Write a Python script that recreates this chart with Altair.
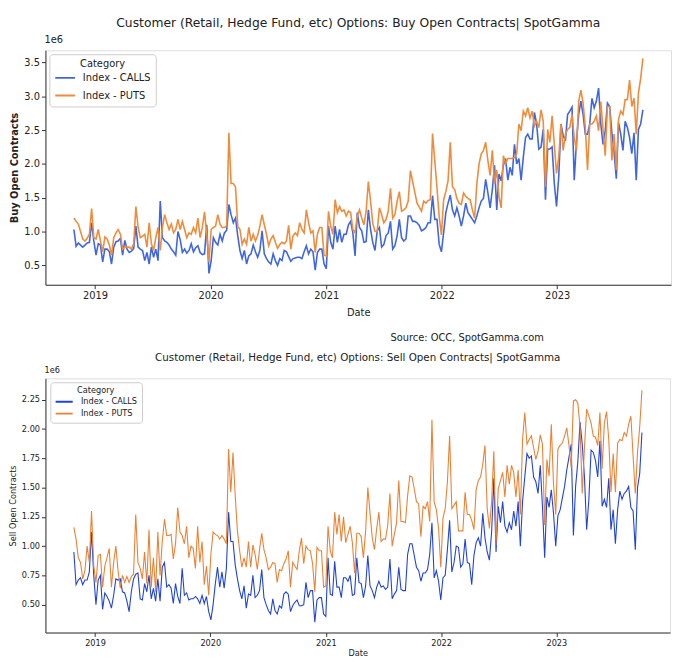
import altair as alt
import pandas as pd

FONT = "DejaVu Sans"
START = "2018-10-26"
CATS = ["Index - CALLS", "Index - PUTS"]
YEARS = [2019, 2020, 2021, 2022, 2023]

TOP_TITLE = "Customer (Retail, Hedge Fund, etc) Options: Buy Open Contracts| SpotGamma"
BOTTOM_TITLE = "Customer (Retail, Hedge Fund, etc) Options: Sell Open Contracts| SpotGamma"
SOURCE = "Source: OCC, SpotGamma.com"

TOP_Y_TICKS = [0.5, 1.0, 1.5, 2.0, 2.5, 3.0, 3.5]
BOTTOM_Y_TICKS = [0.5, 0.75, 1.0, 1.25, 1.5, 1.75, 2.0, 2.25]

# ---- Buy open contracts (millions), weekly ----
buy_calls_a = [1.03, 0.78, 0.83, 0.80, 0.77, 0.80, 0.83, 0.84, 1.13, 0.86, 0.65]
buy_calls_b = [0.82, 0.80, 0.55, 0.74, 0.74, 0.70, 0.52, 0.77, 0.85, 0.86, 0.90, 0.65, 0.87,
               0.74, 0.69, 0.71, 0.75, 1.08, 0.77, 0.74, 0.72, 0.57, 0.69, 0.52, 0.77, 0.62,
               0.74, 0.57, 1.45, 0.91, 0.86, 0.84, 0.80, 0.74, 0.70, 0.65, 1.00, 0.88, 0.69,
               0.74, 0.68, 0.72, 0.82, 0.70, 0.76, 0.79, 0.69, 0.66, 0.67, 1.10, 0.38, 0.57]
buy_calls_c = [0.91, 0.84, 0.80, 0.96, 0.86, 0.98, 1.02, 1.40, 1.25, 1.13, 1.20, 0.94, 0.72,
               0.60, 0.72, 0.52, 0.64, 0.67, 0.80, 0.70, 0.62, 0.72, 1.01, 0.67, 0.60, 0.55,
               0.52, 0.67, 0.57, 0.50, 0.60, 0.57, 0.72, 0.70, 0.63, 0.56, 0.60, 0.61, 0.62,
               0.62, 0.60, 0.70, 0.79, 0.67, 0.74, 0.70, 0.43, 0.69, 0.74, 0.74, 0.52, 0.45]
buy_calls_d = [1.08, 0.84, 0.74, 1.08, 0.84, 1.03, 0.84, 0.96, 0.96, 1.10, 1.15, 0.98, 0.64,
               1.28, 1.06, 1.01, 0.84, 0.85, 1.32, 1.03, 0.84, 0.72, 1.01, 1.06, 0.77, 0.81,
               0.94, 0.98, 1.15, 0.74, 0.79, 0.94, 1.18, 0.91, 0.86, 0.89, 1.23, 1.23, 1.15,
               1.15, 1.13, 1.09, 1.01, 1.03, 1.06, 1.13, 1.13, 1.53, 1.18, 1.18, 0.81, 0.70, 0.98]
buy_calls_e = [1.28, 1.42, 1.54, 1.32, 1.23, 1.35, 1.23, 1.08, 1.23, 1.42, 1.28, 1.23, 1.18,
               1.13, 1.23, 1.35, 1.45, 1.49, 1.77, 1.57, 1.35, 1.62, 1.98, 1.32, 1.85, 1.75,
               1.98, 2.08, 1.76, 1.95, 1.83, 2.29, 2.00, 2.08, 1.76, 2.10, 2.39, 2.44, 2.37,
               2.37, 2.76, 2.60, 2.22, 2.25, 2.51, 1.47, 2.22, 2.22, 2.25, 1.71, 1.37, 1.81]
buy_calls_f = [2.59, 2.42, 2.34, 2.73, 2.78, 2.84, 1.76, 2.32, 2.73, 2.93, 2.73, 2.44, 2.44,
               2.59, 2.97, 2.83, 2.93, 3.12, 2.59, 2.29, 2.49, 2.90, 2.85, 2.46, 2.17, 1.78,
               2.61, 2.44, 2.20, 2.63, 2.54, 2.39, 2.15, 2.46, 1.76, 2.51, 2.59, 2.80]

buy_puts_a = [1.20, 1.15, 1.11, 1.00, 0.89, 0.86, 0.90, 0.96, 1.34, 0.91, 0.89]
buy_puts_b = [1.03, 0.86, 0.70, 0.92, 0.89, 0.80, 0.65, 0.91, 0.98, 1.03, 0.96, 0.74, 0.77,
              0.77, 0.77, 0.74, 0.82, 1.37, 1.06, 0.91, 0.93, 0.96, 0.77, 1.13, 0.82, 0.72,
              0.91, 1.06, 0.72, 1.06, 1.25, 1.13, 1.03, 1.11, 0.98, 1.03, 1.18, 1.03, 1.15,
              1.03, 0.91, 0.98, 0.96, 1.06, 0.98, 1.20, 0.91, 1.06, 1.29, 0.96, 0.55, 1.03]
buy_puts_c = [1.06, 1.08, 1.25, 1.11, 1.06, 1.06, 1.08, 2.46, 1.71, 1.71, 1.66, 1.08, 1.03,
              0.81, 0.89, 0.81, 1.06, 0.86, 0.96, 0.86, 0.94, 1.08, 1.25, 1.10, 0.96, 0.79,
              0.89, 0.94, 0.84, 0.75, 0.81, 0.84, 0.82, 0.86, 1.09, 0.74, 0.94, 0.98, 0.94,
              1.13, 1.03, 0.98, 1.32, 1.13, 0.98, 1.01, 0.69, 0.96, 1.06, 1.06, 0.65, 0.64]
buy_puts_d = [1.30, 1.08, 0.96, 1.47, 1.28, 1.37, 1.30, 1.32, 1.23, 1.30, 1.28, 1.03, 0.98,
              1.23, 1.32, 1.20, 1.10, 1.30, 1.74, 1.45, 1.12, 1.00, 1.00, 1.35, 1.25, 1.13,
              1.18, 1.30, 1.64, 1.20, 1.25, 1.45, 1.59, 1.30, 1.32, 1.35, 1.45, 1.90, 1.74,
              1.58, 1.42, 1.36, 1.30, 1.45, 1.42, 1.46, 1.47, 2.45, 2.05, 1.65, 1.22, 0.95, 1.47]
buy_puts_e = [1.59, 1.75, 2.32, 1.66, 1.62, 1.49, 1.42, 1.40, 1.57, 1.52, 1.49, 1.47, 1.32,
              1.20, 1.70, 2.00, 2.15, 2.20, 2.32, 2.05, 1.83, 2.20, 1.71, 1.91, 1.52, 1.35,
              2.12, 2.00, 2.08, 2.08, 2.08, 2.10, 2.15, 2.59, 2.49, 2.78, 2.71, 2.83, 2.68,
              2.78, 2.56, 2.63, 2.54, 2.80, 2.63, 1.66, 2.51, 2.32, 2.71, 2.29, 1.86, 2.10]
buy_puts_f = [2.59, 2.20, 2.44, 2.51, 2.54, 2.73, 2.39, 2.20, 2.92, 3.09, 2.90, 2.54, 1.91,
              2.59, 2.59, 2.63, 2.71, 2.49, 2.92, 2.51, 2.12, 2.85, 2.85, 2.05, 2.44, 1.91,
              2.66, 2.78, 2.73, 2.95, 2.95, 3.24, 2.85, 2.97, 2.44, 3.05, 3.26, 3.56]

# ---- Sell open contracts (millions), weekly ----
sell_calls_a = [0.95, 0.67, 0.71, 0.73, 0.67, 0.71, 0.71, 0.78, 1.12, 0.75, 0.50]
sell_calls_b = [0.71, 0.75, 0.46, 0.60, 0.57, 0.53, 0.47, 0.58, 0.72, 0.71, 0.72, 0.61, 0.60,
                0.53, 0.44, 0.61, 0.72, 0.76, 0.77, 0.55, 0.54, 0.68, 0.61, 0.75, 0.55, 0.64,
                0.53, 0.72, 0.53, 0.82, 0.86, 0.65, 0.67, 0.64, 0.51, 0.68, 0.57, 0.51, 0.81,
                0.58, 0.60, 0.54, 0.55, 0.55, 0.57, 0.55, 0.51, 0.58, 0.51, 0.57, 0.44, 0.37]
sell_calls_c = [0.50, 0.68, 0.82, 0.65, 0.78, 0.64, 0.81, 1.29, 1.04, 1.04, 0.84, 0.72, 0.62,
                0.55, 0.66, 0.47, 0.59, 0.58, 0.75, 0.56, 0.58, 0.62, 0.80, 0.56, 0.50, 0.45,
                0.42, 0.55, 0.45, 0.42, 0.49, 0.47, 0.59, 0.61, 0.59, 0.44, 0.49, 0.52, 0.54,
                0.49, 0.49, 0.50, 0.69, 0.56, 0.62, 0.62, 0.35, 0.54, 0.56, 0.56, 0.42, 0.40]
sell_calls_d = [0.90, 0.59, 0.58, 0.87, 0.65, 0.65, 0.56, 0.73, 0.73, 0.70, 0.75, 0.58, 0.59,
                0.90, 0.69, 0.68, 0.56, 0.66, 0.92, 0.66, 0.62, 0.56, 0.65, 0.70, 0.65, 0.66,
                0.63, 0.65, 0.89, 0.55, 0.59, 0.62, 0.82, 0.63, 0.62, 0.62, 0.93, 1.02, 1.02,
                0.92, 0.82, 0.79, 0.70, 0.77, 0.77, 0.80, 0.93, 1.20, 0.73, 0.79, 0.70, 0.54, 0.73]
sell_calls_e = [0.75, 0.97, 1.22, 0.78, 0.86, 1.00, 0.99, 0.82, 0.85, 1.06, 0.86, 0.85, 0.67,
                0.92, 1.03, 1.07, 1.00, 1.28, 1.07, 0.95, 0.88, 1.12, 1.58, 0.95, 1.34, 1.20,
                1.38, 1.17, 1.12, 1.20, 1.14, 1.30, 1.17, 1.38, 1.00, 1.38, 1.59, 1.79, 1.75,
                1.77, 1.59, 1.55, 1.45, 1.69, 1.34, 0.90, 1.42, 1.33, 1.48, 1.28, 1.00, 1.26]
sell_calls_f = [1.31, 1.41, 1.51, 1.65, 1.76, 1.87, 1.09, 1.51, 1.72, 2.06, 1.87, 1.59, 1.14,
                1.40, 1.82, 1.80, 1.73, 1.59, 1.90, 1.34, 1.40, 1.33, 1.58, 1.14, 1.31, 1.02,
                1.31, 1.47, 1.40, 1.45, 1.47, 1.51, 1.33, 1.30, 0.97, 1.50, 1.62, 1.97]

sell_puts_a = [1.16, 1.06, 0.90, 0.86, 0.72, 0.79, 1.00, 0.86, 1.30, 0.83, 0.69]
sell_puts_b = [0.92, 0.93, 0.65, 0.83, 0.90, 0.98, 0.65, 0.86, 1.00, 0.79, 0.64, 0.75, 0.69,
               0.74, 0.69, 0.74, 0.76, 1.27, 0.86, 0.81, 0.72, 0.95, 0.68, 1.14, 0.65, 0.90,
               0.61, 1.12, 0.75, 1.04, 1.23, 1.09, 1.09, 1.10, 0.89, 1.02, 1.33, 1.12, 1.09,
               1.02, 1.17, 0.90, 1.00, 0.98, 0.81, 1.17, 0.86, 1.04, 0.67, 0.83, 0.58, 0.93]
sell_puts_c = [1.12, 1.10, 1.09, 1.06, 1.09, 1.06, 1.02, 1.83, 1.46, 1.80, 1.43, 1.13, 0.96,
               0.82, 0.90, 0.82, 1.04, 0.82, 1.01, 0.93, 0.80, 0.97, 1.11, 0.97, 0.90, 0.80,
               0.82, 0.86, 0.85, 0.69, 0.80, 0.79, 0.85, 0.89, 0.96, 0.65, 0.86, 0.83, 0.80,
               0.96, 1.07, 0.85, 1.00, 0.97, 0.96, 0.85, 0.61, 0.99, 0.96, 0.96, 0.65, 0.66]
sell_puts_d = [1.17, 0.96, 0.90, 1.29, 1.10, 1.27, 1.04, 1.25, 1.03, 1.10, 1.17, 1.03, 0.77,
               1.11, 1.11, 1.08, 0.90, 1.13, 1.50, 1.28, 1.07, 0.97, 1.15, 1.29, 1.04, 1.06,
               1.06, 1.18, 1.45, 1.00, 1.10, 1.20, 1.56, 1.21, 1.21, 1.20, 1.43, 1.60, 1.59,
               1.49, 1.38, 1.36, 1.08, 1.34, 1.32, 1.38, 1.21, 2.08, 1.38, 1.31, 1.15, 0.82, 1.24]
sell_puts_e = [1.32, 1.55, 1.94, 1.32, 1.35, 1.38, 1.13, 1.13, 1.13, 1.46, 1.27, 1.27, 1.22,
               1.14, 1.48, 1.56, 1.59, 1.70, 1.86, 1.32, 1.15, 1.38, 1.81, 1.01, 1.49, 1.56,
               1.63, 1.42, 1.69, 1.53, 1.69, 1.63, 1.42, 1.65, 1.27, 1.91, 2.14, 1.87, 1.91,
               1.94, 1.84, 1.74, 1.81, 1.95, 1.87, 1.18, 1.74, 1.60, 2.04, 1.53, 1.27, 1.83]
sell_puts_f = [1.86, 1.88, 1.94, 2.01, 1.86, 1.67, 2.24, 2.25, 2.22, 2.02, 1.45, 1.84, 2.17,
               2.11, 2.05, 1.94, 1.93, 1.86, 2.14, 1.66, 2.05, 2.15, 1.91, 1.46, 1.79, 1.46,
               1.88, 1.91, 1.90, 1.97, 1.94, 2.04, 2.11, 1.77, 1.45, 1.80, 2.02, 2.33]

buy_calls = buy_calls_a + buy_calls_b + buy_calls_c + buy_calls_d + buy_calls_e + buy_calls_f
buy_puts = buy_puts_a + buy_puts_b + buy_puts_c + buy_puts_d + buy_puts_e + buy_puts_f
sell_calls = sell_calls_a + sell_calls_b + sell_calls_c + sell_calls_d + sell_calls_e + sell_calls_f
sell_puts = sell_puts_a + sell_puts_b + sell_puts_c + sell_puts_d + sell_puts_e + sell_puts_f


def make_df(calls, puts):
    d1 = pd.DataFrame({"Date": pd.date_range(START, periods=len(calls), freq="7D"),
                       "Value": calls, "Category": CATS[0]})
    d2 = pd.DataFrame({"Date": pd.date_range(START, periods=len(puts), freq="7D"),
                       "Value": puts, "Category": CATS[1]})
    return pd.concat([d1, d2], ignore_index=True)


XDOM = [alt.DateTime(year=2018, month=7, date=28), alt.DateTime(year=2023, month=12, date=27)]
XTICKS = [alt.DateTime(year=y, month=1, date=1) for y in YEARS]
INK = "#222222"
FRAME = "#333333"


def panel(df, width, height, ydom, yticks, yfmt, ytitle, ytitle_weight, fs, title_fs,
          colors, sw, title, title_y, exp_y, date_y, ytitle_x, legend, extra=None):
    base_axis = dict(labelFontSize=fs, titleFontSize=fs, labelColor=INK, titleColor=INK,
                     tickColor=FRAME, domainColor=FRAME, tickSize=4, labelPadding=2,
                     grid=False, labelFont=FONT, titleFont=FONT)
    lines = alt.Chart(df).mark_line(strokeWidth=sw).encode(
        x=alt.X("Date:T", scale=alt.Scale(domain=XDOM),
                axis=alt.Axis(values=XTICKS, format="%Y", title="Date",
                              titleFontWeight="normal", titleY=date_y,
                              titleBaseline="middle", **base_axis)),
        y=alt.Y("Value:Q", scale=alt.Scale(domain=ydom, nice=False, zero=False),
                axis=alt.Axis(values=yticks, format=yfmt, title=ytitle,
                              titleFontWeight=ytitle_weight, titleX=ytitle_x,
                              titleBaseline="middle", **base_axis)),
        color=alt.Color("Category:N", scale=alt.Scale(domain=CATS, range=colors),
                        legend=legend),
    )
    t = alt.Chart(pd.DataFrame({"t": [title]})).mark_text(
        fontSize=title_fs, font=FONT, color=INK, align="center", baseline="middle"
    ).encode(text="t:N", x=alt.value(width / 2), y=alt.value(title_y))
    e = alt.Chart(pd.DataFrame({"t": ["1e6"]})).mark_text(
        fontSize=fs, font=FONT, color=INK, align="left", baseline="middle"
    ).encode(text="t:N", x=alt.value(-1), y=alt.value(exp_y))
    layers = [lines, t, e]
    if extra is not None:
        layers.append(extra)
    return alt.layer(*layers).properties(width=width, height=height)


def legend(x, y, fs, sym, clip, rowpad, pad):
    return alt.Legend(orient="none", legendX=x, legendY=y, title="Category",
                      titleFontSize=fs, titleFontWeight="normal", titleAnchor="middle",
                      titleColor=INK, labelColor=INK, labelFontSize=fs,
                      titleFont=FONT, labelFont=FONT,
                      symbolType="stroke", symbolStrokeWidth=2, symbolSize=sym,
                      clipHeight=clip, rowPadding=rowpad, padding=pad, titlePadding=3,
                      labelOffset=7, fillColor="rgba(255,255,255,0.85)",
                      strokeColor="#cccccc", cornerRadius=3)


top_df = make_df(buy_calls, buy_puts)
bottom_df = make_df(sell_calls, sell_puts)

TOP_W, TOP_H = 635, 238
BOT_W, BOT_H = 634, 258

source = alt.Chart(pd.DataFrame({"t": [SOURCE]})).mark_text(
    fontSize=10, font=FONT, color=INK, align="center", baseline="middle"
).encode(text="t:N", x=alt.value(428), y=alt.value(292))

top = panel(top_df, TOP_W, TOP_H, [0.213, 3.68], TOP_Y_TICKS, ".1f", "Buy Open Contracts",
            "bold", 10, 12.5, ["#3f66e0", "#ef8c3c"], 1.6, TOP_TITLE, -28, -10, 28, -31,
            legend(4, 4, 10, 400, 12, 6, 5), extra=source)
bottom = panel(bottom_df, BOT_W, BOT_H, [0.262, 2.433], BOTTOM_Y_TICKS, ".2f",
               "Sell Open Contracts", "normal", 8.3, 10.5, ["#1f42d8", "#ea8235"], 1.1,
               BOTTOM_TITLE, -21, -7, 21, -32, legend(5, 4, 8.3, 300, 9, 2, 4))

chart = alt.vconcat(top, bottom, spacing=95, bounds="flush").resolve_scale(
    color="independent").resolve_legend(color="independent").properties(
    padding={"left": 0, "top": 3, "right": 0, "bottom": 0}
).configure_view(stroke=FRAME, strokeWidth=1).configure(font=FONT)

chart.save("out.html", embed_options={"renderer": "svg", "actions": False})
